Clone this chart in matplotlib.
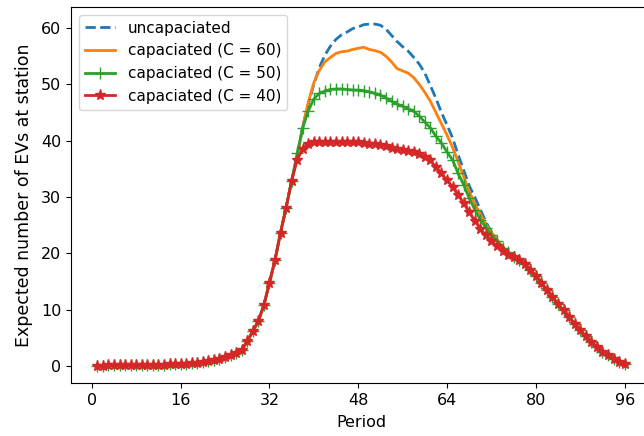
import matplotlib
matplotlib.use("Agg")
import matplotlib.pyplot as plt
import numpy as np


# Expected number of EVs per period

periods = np.arange(1, 97)

# periods 1-36, identical for all four runs
base = [0.05, 0.1, 0.15, 0.15, 0.2, 0.2, 0.2, 0.25, 0.25, 0.25,
        0.3, 0.3, 0.3, 0.35, 0.35, 0.4, 0.45, 0.5, 0.6, 0.75,
        0.9, 1.1, 1.3, 1.6, 1.9, 2.3, 2.9, 4.4, 6.2, 8.0,
        10.8, 14.8, 18.8, 23.7, 28.1, 32.9]

# periods 76-96, identical again
tail = [19.3, 18.8, 18.1, 17.1, 16.0, 14.8, 13.5, 12.3, 11.0, 9.9,
        8.7, 7.5, 6.4, 5.3, 4.3, 3.4, 2.6, 1.9, 1.3, 0.8, 0.4]

# periods 37-75
uncap = base + [
    37.0, 42.5, 46.5, 50.0, 53.0, 55.2, 56.8, 58.0, 58.8, 59.3,
    59.9, 60.2, 60.6, 60.7, 60.7, 60.5, 59.8, 58.7, 57.6, 56.7,
    55.9, 54.8, 53.6, 52.0, 49.8, 47.5, 45.0, 42.8, 40.5, 37.5,
    34.8, 32.0, 30.0, 27.8, 25.6, 23.8, 22.4, 21.2, 20.2] + tail

cap60 = base + [
    37.0, 42.5, 46.8, 50.3, 52.5, 54.0, 54.8, 55.5, 55.8, 55.9,
    56.2, 56.4, 56.6, 56.2, 56.0, 55.7, 55.0, 54.0, 52.8, 52.4,
    52.0, 51.2, 50.0, 48.6, 47.0, 45.0, 43.0, 41.0, 38.8, 36.3,
    33.6, 31.0, 28.8, 27.0, 25.2, 23.8, 22.4, 21.2, 20.2] + tail

cap50 = base + [
    37.8, 42.3, 45.3, 47.4, 48.4, 48.8, 49.1, 49.2, 49.2, 49.1,
    49.0, 49.0, 48.9, 48.7, 48.4, 48.1, 47.6, 47.0, 46.5, 46.1,
    45.7, 45.2, 44.4, 43.3, 42.3, 40.8, 39.6, 38.0, 36.6, 34.2,
    32.2, 29.8, 27.8, 26.0, 24.6, 23.2, 22.2, 21.0, 20.2] + tail

cap40 = base + [
    36.6, 38.6, 39.4, 39.7, 39.8, 39.8, 39.8, 39.8, 39.7, 39.7,
    39.7, 39.7, 39.6, 39.5, 39.4, 39.2, 39.0, 38.8, 38.5, 38.3,
    38.1, 38.0, 37.7, 37.2, 36.5, 35.3, 34.2, 33.0, 31.8, 30.4,
    28.9, 27.3, 25.8, 24.4, 23.2, 22.2, 21.3, 20.5, 19.7] + tail

labels = ["uncapaciated", "capaciated (C = 60)",
          "capaciated (C = 50)", "capaciated (C = 40)"]
xticks = [0, 16, 32, 48, 64, 80, 96]


plt.rcParams["font.size"] = 11.5

fig = plt.figure(figsize=(6.44, 4.36), dpi=100)
ax = fig.add_axes([71/644, 53/436, 580/644, 376/436])

ax.plot(periods, uncap, "--", color="tab:blue", lw=2, label=labels[0])
ax.plot(periods, cap60, "-", color="tab:orange", lw=2, label=labels[1])
ax.plot(periods, cap50, "-", color="tab:green", lw=2, marker="+",
        ms=9, label=labels[2])
ax.plot(periods, cap40, "-", color="tab:red", lw=2, marker="*",
        ms=8, label=labels[3])

ax.set_xticks(xticks)
ax.set_xlabel("Period", labelpad=5)
ax.set_ylabel("Expected number of EVs at station", fontsize=12.5,
              labelpad=6)
ax.legend(loc="upper left", fontsize=11)

fig.savefig("out.png", dpi=100)
